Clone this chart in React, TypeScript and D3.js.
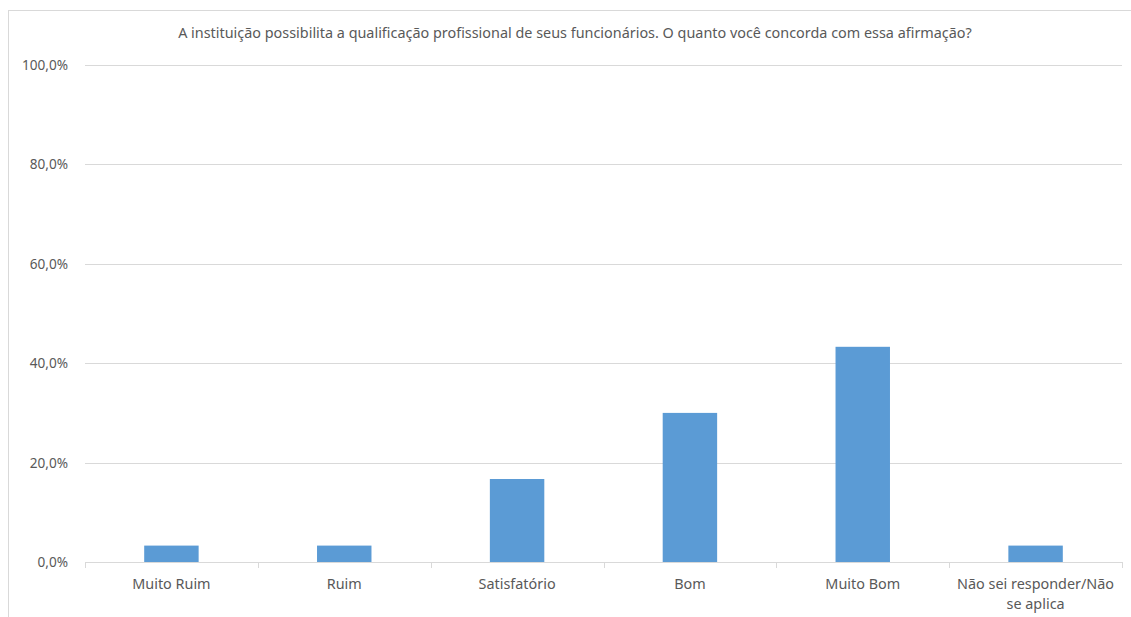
import React from "react";
import * as d3 from "d3";

const categories = ["Muito Ruim", "Ruim", "Satisfatório", "Bom", "Muito Bom", "Não sei responder/Não se aplica"];
const values = [3.3, 3.3, 16.7, 30.0, 43.3, 3.3];
const yTicks = [0, 20, 40, 60, 80, 100];
const title = "A instituição possibilita a qualificação profissional de seus funcionários. O quanto você concorda com essa afirmação?";

const W = 1131;
const H = 617;
const left = 85;
const right = 1122;
const top = 65;
const bottom = 562;
const font = "'Noto Sans', 'Open Sans', sans-serif";
const textColor = "#595959";

function splitLabel(s: string): string[] {
  if (s.length > 20) {
    const i = s.lastIndexOf("/Não");
    if (i > 0) return [s.slice(0, i + 4).trim(), s.slice(i + 4).trim()];
  }
  return [s];
}

export default function App() {
  const x = d3.scaleBand<string>().domain(categories).range([left, right]).paddingInner(0).paddingOuter(0);
  const y = d3.scaleLinear().domain([0, 100]).range([bottom, top]);
  const bw = x.bandwidth() * 0.315;
  const fmt = (v: number) => v.toFixed(1).replace(".", ",") + "%";

  return (
    <svg width={W} height={H} style={{ position: "absolute", left: 0, top: 0, display: "block" }}>
      <rect x={0} y={0} width={W} height={H} fill="#fff" />
      <rect x={8.5} y={10.5} width={W + 20} height={H + 20} fill="#fff" stroke="#d9d9d9" strokeWidth={1} />
      <text x={575} y={38} textAnchor="middle" fontFamily={font} fontSize={14.4} fill={textColor}>
        {title}
      </text>
      {yTicks.map((t) => (
        <g key={t}>
          {t > 0 && (
            <line x1={left} x2={right} y1={Math.round(y(t)) + 0.5} y2={Math.round(y(t)) + 0.5} stroke="#d9d9d9" strokeWidth={1} />
          )}
          <text x={68} y={y(t) + 5} textAnchor="end" fontFamily={font} fontSize={13.6} fill={textColor}>
            {fmt(t)}
          </text>
        </g>
      ))}
      {categories.map((c, i) => (
        <rect
          key={c}
          x={(x(c) as number) + (x.bandwidth() - bw) / 2}
          y={y(values[i])}
          width={bw}
          height={bottom - y(values[i])}
          fill="#5b9bd5"
        />
      ))}
      <line x1={left} x2={right} y1={bottom + 0.5} y2={bottom + 0.5} stroke="#d9d9d9" strokeWidth={1} />
      {d3.range(categories.length + 1).map((i) => {
        const xx = Math.round(left + i * x.step()) + 0.5;
        return <line key={i} x1={xx} x2={xx} y1={bottom} y2={bottom + 6} stroke="#d9d9d9" strokeWidth={1} />;
      })}
      {categories.map((c) => {
        const lines = splitLabel(c);
        const cx = (x(c) as number) + x.bandwidth() / 2;
        return (
          <text key={c} textAnchor="middle" fontFamily={font} fontSize={14.4} fill={textColor}>
            {lines.map((l, j) => (
              <tspan key={j} x={cx} y={589 + j * 20}>
                {l}
              </tspan>
            ))}
          </text>
        );
      })}
    </svg>
  );
}
